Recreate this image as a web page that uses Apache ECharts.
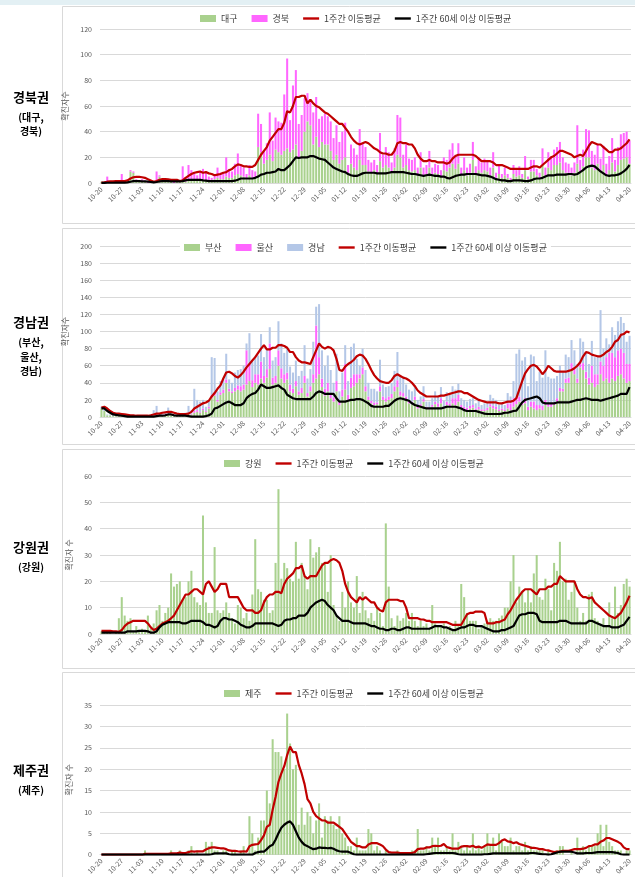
<!DOCTYPE html>
<html><head><meta charset="utf-8">
<script src="https://cdn.jsdelivr.net/npm/echarts@6/dist/echarts.min.js"></script>
<style>html,body{margin:0;padding:0;background:#fff}#c{width:635px;height:877px}</style>
</head><body><div id="c"></div>
<script>
const dates = [
'10-20','10-21','10-22','10-23','10-24','10-25','10-26','10-27','10-28','10-29','10-30','10-31',
'11-01','11-02','11-03','11-04','11-05','11-06','11-07','11-08','11-09','11-10','11-11','11-12','11-13','11-14','11-15','11-16','11-17','11-18','11-19','11-20','11-21','11-22','11-23','11-24','11-25','11-26','11-27','11-28','11-29','11-30',
'12-01','12-02','12-03','12-04','12-05','12-06','12-07','12-08','12-09','12-10','12-11','12-12','12-13','12-14','12-15','12-16','12-17','12-18','12-19','12-20','12-21','12-22','12-23','12-24','12-25','12-26','12-27','12-28','12-29','12-30','12-31',
'01-01','01-02','01-03','01-04','01-05','01-06','01-07','01-08','01-09','01-10','01-11','01-12','01-13','01-14','01-15','01-16','01-17','01-18','01-19','01-20','01-21','01-22','01-23','01-24','01-25','01-26','01-27','01-28','01-29','01-30','01-31',
'02-01','02-02','02-03','02-04','02-05','02-06','02-07','02-08','02-09','02-10','02-11','02-12','02-13','02-14','02-15','02-16','02-17','02-18','02-19','02-20','02-21','02-22','02-23','02-24','02-25','02-26','02-27','02-28',
'03-01','03-02','03-03','03-04','03-05','03-06','03-07','03-08','03-09','03-10','03-11','03-12','03-13','03-14','03-15','03-16','03-17','03-18','03-19','03-20','03-21','03-22','03-23','03-24','03-25','03-26','03-27','03-28','03-29','03-30','03-31',
'04-01','04-02','04-03','04-04','04-05','04-06','04-07','04-08','04-09','04-10','04-11','04-12','04-13','04-14','04-15','04-16','04-17','04-18','04-19','04-20'];

// ---- 경북권 ----
const daegu = [
1,0,1,0,1,1,0, 1,1,2,9,8,1,1, 1,1,0,1,0,2,5, 1,2,1,1,0,1,1, 1,1,2,3,2,2,3, 3,2,1,2,3,4,3,
3,5,4,4,6,7,6, 5,3,6,4,4,28,24, 15,18,22,17,26,24,22, 25,27,24,26,30,20,25, 40,48,45,30,36,28,32,
30,30,25,18,22,15,18, 20,8,15,12,10,18,14, 14,9,8,10,7,17,12, 14,12,8,12,22,20,12, 14,10,9,10,6,12,6,
7,12,6,8,7,5,10, 9,12,15,11,15,6,10, 6,8,18,7,10,8,10, 9,6,12,4,7,4,6, 4,2,7,5,6,4,10,
3,9,9,6,4,14,6, 12,10,14,14,16,10,8, 8,6,8,15,9,13,20, 20,12,10,15,9,14,6, 10,16,9,14,18,19,20, 15];
const gyeongbuk = [
0,1,4,1,0,1,1, 6,1,1,1,1,2,1, 2,1,1,0,0,7,1, 2,1,1,2,1,1,1, 12,3,12,7,6,4,6, 8,7,4,2,4,8,5,
5,15,7,5,9,16,8, 7,4,8,6,5,26,22, 10,13,33,16,25,24,25, 44,70,25,50,58,26,28, 26,22,19,25,31,22,20,
24,22,23,17,23,17,22, 27,6,15,15,12,24,17, 14,9,8,8,7,22,10, 14,12,8,15,31,31,10, 16,9,9,10,6,12,6,
7,13,6,7,7,5,10, 9,14,16,11,16,6,10, 6,7,14,6,10,8,9, 9,6,12,4,7,3,6, 3,2,7,5,7,3,11,
2,9,9,5,4,13,6, 12,11,12,14,16,10,8, 7,6,8,30,9,13,22, 21,13,12,15,10,15,9, 11,19,9,14,20,20,20, 18];
const p1Avg = [
0.3,0.5,1,1.2,1.3,1.5,1.5, 1.5,1.5,2,3.5,4.5,4.8,4.8, 4.5,4,3,2,1,1.5,2.5, 3,3,2.8,2.5,2.5,2.5,1.5,
2,4,5.5,7,8,8.5,9, 8,8.5,7.5,7,6,6.5,7, 8,8.5,10,11,13,14.5,14, 13,13,12.5,12.5,14,18,22,
25,28,33,36,39,42,42, 47,56,55,60,67,67,68, 68,62,65,62,60,59,57, 55,54,52,50,48,46,46,
43,40,36,33,31,30,31, 32,31,29,27,26,24,23, 23,22,22,25,31,32,31, 31,30,30,27,22,19,17,
17,18,17,17,16,16,16, 15,16,19,21,22,22,22, 22,22,22,21,19,17,17, 17,17,16,14,14,14,13,
12,11,11,11,11,11,11, 11,12,13,13,12,14,16, 18,20,21,23,25,25,24, 23,22,20,21,22,21,25,
29,32,31,30,30,28,26, 24,24,26,26,27,29,31, 34];
const p1Avg60 = [
0.1,0.1,0.2,0.2,0.2,0.3,0.3, 0.3,0.3,0.5,1,1.5,1.5,1.5, 1.3,1.2,1,0.8,0.5,0.8,1.2, 1.5,1.5,1.5,1.3,1.2,1.2,1.2,
1.5,2,2.5,2.5,2.5,2.5,2.5, 2,1.8,1.5,1.5,1.5,1.5,1.5, 1.5,1.5,1.5,1.5,1.8,2.5,3.5, 3.5,3.5,3.5,3.5,4,5,6.5,
7,8,8,8.5,9,11,10, 10,12,14,17,20,19.5,20, 20,20,21,21,20,19,18.5, 18,16,14,12,11,10,9,
8.5,7,6,5.5,5.5,6.5,7.5, 8,8,8,8,7.5,7.5,7.5, 7.5,8,8.5,8.5,8.5,8.5,8.5, 8,7.5,7,7,6.5,6,5.5,
6,6.5,6,5.5,5.5,5,5, 4,3.5,4.5,5.5,6,6.5,6.5, 7,7,7,7,6.5,6,6, 5.5,5,4,3,2.5,2,2,
1.5,1.5,2,2,2,1.8,1.5, 1.5,2,3,3.5,3.5,4,5, 6,6,6,6.5,6.5,6.5,6.5, 7,7,6.5,7,8.5,10,12,
13,13.5,13,11,9,7.5,6, 5.5,6,6,6.5,7.5,9,11, 14];

// ---- 경남권 ----
const busan = [
10,7,2,2,1,1,1, 1,1,0,1,1,0,1, 0,1,1,1,2,3,2, 3,2,4,2,1,2,1, 1,2,4,3,5,6,5, 8,6,10,22,25,18,26,
28,40,30,28,30,32,30, 32,38,42,35,40,38,45, 40,46,56,38,40,60,45, 40,44,30,28,36,26,28, 40,24,30,40,45,50,35,
25,30,22,18,30,14,24, 32,20,34,36,40,45,50, 30,20,16,14,15,30,20, 18,20,22,30,35,25,24, 20,16,15,20,10,12,18,
10,9,12,15,12,16,10, 14,12,16,14,18,10,9, 8,10,11,8,9,7,7, 8,12,10,9,7,8,7, 10,8,12,15,18,14,16,
8,12,10,8,10,8,14, 12,12,14,18,30,30,40, 40,55,50,40,58,55,45, 38,40,35,38,50,42,45, 40,45,42,48,50,45,40, 42];
const ulsan = [
0,0,0,0,0,0,0, 0,0,0,0,0,0,0, 0,0,0,0,1,1,0, 1,1,2,0,0,0,0, 0,0,1,1,2,2,1, 2,1,2,4,3,2,3,
4,4,3,2,4,5,6, 6,40,20,8,10,12,20, 8,10,30,8,8,18,12, 10,8,8,5,6,4,6, 8,4,6,10,62,20,10,
8,10,6,5,12,4,8, 30,6,12,14,10,5,8, 6,4,3,3,2,6,4, 4,4,5,6,8,5,4, 4,4,3,4,2,3,3,
2,2,2,3,4,6,2, 4,4,6,8,8,4,3, 3,3,3,2,3,2,2, 3,3,3,3,2,2,2, 6,8,10,8,6,4,6,
4,6,8,6,4,5,6, 4,4,3,4,4,3,5, 6,8,6,5,6,8,8, 8,20,15,12,15,18,25, 35,30,28,30,30,30,22, 20];
const gyeongnam = [
2,2,1,1,1,1,0, 1,0,1,0,1,1,0, 1,0,1,2,5,9,2, 2,2,5,2,2,1,1, 1,3,8,4,26,12,12, 10,5,8,44,41,10,13,
12,30,11,10,18,18,20, 22,8,36,22,21,22,32, 22,24,19,20,22,34,29, 25,28,21,19,24,18,20, 36,17,20,38,22,62,33,
27,32,27,17,32,12,20, 22,16,36,36,18,10,22, 19,16,14,16,13,31,14, 13,12,13,18,33,18,19, 14,12,12,13,8,9,15,
6,7,8,12,9,13,7, 11,10,14,10,13,8,8, 7,8,8,6,8,5,7, 6,11,9,8,5,6,5, 12,8,20,51,55,48,48,
24,55,53,28,39,33,58, 31,29,28,26,26,20,28, 24,27,22,17,28,25,22, 16,29,20,22,60,20,22, 10,30,26,34,37,35,26, 33];
const p2Avg = [
11,12,10,7,5,4,4, 3.5,3,2.5,2,2,1.5,1.5, 1.5,1.5,1.5,2,3,4,4, 5,5.5,6,6,5,4,3.5, 3.5,3.5,4,6,10,12,14,
16,17,19,24,28,33,37, 45,52,53,51,48,46,49, 53,58,62,66,70,75,80, 84,79,79,81,81,84,84, 83,81,76,76,70,66,64,
64,63,62,70,78,86,82, 80,82,81,78,68,55,54, 59,62,64,67,71,73,72, 68,62,55,49,45,42,41, 40,40,43,48,50,48,46,
45,43,40,36,31,28,26, 24,24,24,24,24,25,25, 26,27,28,29,30,30,28, 28,26,24,22,20,19,18, 17,17,17,17,16,16,17,
18,18,19,22,32,42,51, 56,60,61,59,55,50,54, 60,57,54,53,53,53,53, 54,55,57,60,64,71,76, 75,73,72,71,71,73,76,
78,82,88,90,96,97,100, 99];
const p2Avg60 = [
10,10,7,5,3,2.5,2, 1.5,1,0.5,0.5,0.5,0.5,0.5, 0.5,0.5,0.5,0.5,0.5,1,1.5, 1.5,2,3,3,2,1.5,1.5, 1.5,1.5,1,0.5,0.5,0.5,0.5,
0.5,1,2,4,10,11,13, 15,17,18,16,14,14,14, 16,22,25,27,28,32,38, 36,34,34,35,36,37,34, 32,26,24,22,21,21,21,
21,21,21,24,28,30,29, 27,27,27,27,22,18,18, 18,19,20,20,21,21,20, 18,16,13,12,12,12,12, 13,13,16,19,21,22,21,
20,19,16,14,13,12,11, 10,10,10,10,10,10,11, 12,12,12,12,11,10,8, 7,7,7,7,6,5,4, 3.5,3.5,3.5,3.5,3.5,4,5,
5,6,7,7.5,12,17,20, 21,22,23,24,22,17,16, 16,16,16,17,17,17,17, 17,18,19,20,20,21,22, 21,20,20,20,19,20,21,
22,23,24,25,27,27,27, 35];

// ---- 강원권 ----
const gangwon = [
1,1,1,1,0,1,6, 14,7,5,6,1,3,1, 2,1,7,2,4,9,11, 5,8,10,23,18,19,20, 13,14,20,24,14,12,11, 45,12,8,8,33,9,8,
9,12,8,6,4,11,10, 6,8,5,15,36,17,16, 13,13,8,9,27,55,21, 27,25,21,20,35,21,27, 22,17,36,29,31,33,27,
27,16,30,11,7,5,16, 10,20,12,10,22,8,16, 9,6,8,5,10,8,3, 42,18,6,3,7,5,6, 8,5,8,5,3,5,3,
4,2,11,4,3,3,4, 2,3,2,5,3,19,14, 8,5,5,5,2,3,4, 5,6,5,5,6,7,10, 10,20,30,12,18,16,12,
17,12,23,30,14,13,21, 17,9,27,24,35,20,21, 13,16,20,10,5,8,5, 15,16,6,5,4,6,3, 12,6,18,8,11,19,21, 18];
const p3Avg = [
1.2,1.2,1.2,1.2,1,1,0.8, 1.5,3,4,4.5,5,5,5, 5,5,4,2.5,1.5,2,3, 4,4.5,5,6,7,9,11, 13,15,15,16,17,17,16,
15,19,20,18,16,17,19, 19,19,14,14,14,14,12, 10,9,9,9,8,8,9, 12,14,15,15,16,16,15.5, 19,21,22,23,25,25,26,
22,21,22,22,22,24,26, 27,27,28,28.5,28,27,24, 19,16,14,13,12,14,13, 14,13,12,12,10,9,8.5, 12,13,13,13,13,12.5,12.5,
10,6,6,6,6,5.5,5.5, 5,5,4.5,4.5,4.5,4.5,4.5, 4.5,4,3.5,3.5,3.5,3.5,5.5, 7.5,8,8,8.5,8.5,8.5,8, 4,4,4,4.5,4.5,5,5.5,
7.5,9,11,13,14.5,16,17, 17,17,16,15,17,17,17, 18,18,19,19,22,21,20, 20,20,20,17,15,14,14, 13.5,14,12,11,10,9,8,
7,6.5,6,7,8,10,12, 14.5];
const p3Avg60 = [
0.5,0.5,0.5,0.5,0.5,0.5,0.5, 0.5,0.5,1,1,1,1,1.2, 1.2,1.2,1,0.5,0.5,1,2.5, 3.5,4,4.5,4.5,4.5,4.5,4.5, 4,4,4.5,5,5,5,5,
4.5,3.5,3.5,3,2.5,3,5, 6,6,5.5,5.5,5,4.5,3.5, 3,2.5,2.5,3,4,4,4, 4,4,4,4,3.5,3,3.5, 5,5.5,5.5,6,6,7,7,
7,8,10,11,12,12.5,13, 12.5,11,10,9,7,6,5, 5,5,4.5,4,4,4,4, 4,3.5,3,3,2.5,2,2, 1.5,1.5,2,2,1.5,1.5,2,
2.5,2.5,2,2,2,2,2, 2,2,2.5,3,3,3,2.5, 2.5,2,1.5,1.5,2,2.5,2.5, 3,3.5,3.5,3,3,3,2.5, 2,1.5,1,1,1,1.5,1.5,
2,2.5,3,5,7,7.5,7.5, 8,8,8,7.5,5,4.5,4.5, 4.5,4.5,4.5,4.5,5,5,5, 4.5,4,4,4,4,4,4, 5,5,4.5,4,3.5,3,3,
3,2.5,2.5,2.5,3,3.5,5, 6.5];

// ---- 제주권 ----
const jeju = [
0,0,0,0,0,0,0, 0,0,0,0,0,0,0, 0,1,0,0,0,0,0, 0,0,0,1,0,0,1, 0,0,1,2,0,1,0, 0,3,2,3,1,1,0,
1,1,0,1,1,0,1, 2,0,9,5,1,4,8, 8,15,12,27,24,24,23, 20,33,26,20,21,7,11, 7,10,9,5,8,12,4,
9,8,9,7,6,9,5, 4,2,2,1,4,1,1, 1,6,5,1,2,1,0, 1,0,0,0,1,0,0, 0,0,1,1,6,1,1,
2,1,4,2,4,1,1, 2,1,5,1,3,2,1, 2,1,5,1,2,1,2, 5,2,4,1,5,3,2, 2,4,1,2,2,1,3,
1,2,1,1,1,1,0, 1,0,0,1,2,2,0, 0,1,0,4,1,2,1, 2,2,2,5,7,2,7, 3,2,1,1,1,0,1, 1];
const p4Avg = [
0,0,0,0,0,0,0, 0,0,0,0,0,0,0, 0,0.2,0.2,0.2,0.2,0.2,0.2, 0.2,0.2,0.2,0.3,0.3,0.3,0.5, 0.4,0.4,0.6,0.8,0.7,0.8,0.8,
0.8,1.2,1.5,1.7,1.7,1.6,1.5, 1.5,1.3,1,0.9,0.9,0.8,0.7, 0.8,0.7,2,2.3,2.4,2.5,3.4, 4.5,6.5,7,10.5,13.5,17,19,
20.7,23.3,25.3,24,24,21,19, 16.5,13,12,10,9,8.5,8, 8,7.5,7.5,7.5,7,6.5,6, 5,4,3,2.5,2,2,1.7, 1.7,2.4,2.7,2.7,2.7,2.4,2,
1.2,0.6,0.5,0.5,0.5,0.4,0.4, 0.4,0.4,0.4,0.6,1.3,1.4,1.4, 1.7,1.7,2,2.1,2,2.1,2.5, 1.8,1.6,1.4,1.4,1.4,1.9,2,
2,1.9,2.1,1.7,1.9,1.6,2, 2.4,2.3,2.3,2.3,2.7,3.3,3.6, 3.1,3,2.7,2.9,2.5,2.3,2.1, 1.9,1.6,1.6,1.5,1.3,1.3,1.1,
1,0.8,0.6,0.7,0.7,0.9,0.9, 0.9,1.1,1.3,1.3,1.3,1.4,1.6, 2,2.1,2.4,2.4,3,3.3,3.9, 3.9,3.6,3.3,3,2.6,1.7,1.3, 1.3];
const p4Avg60 = [
0,0,0,0,0,0,0, 0,0,0,0,0,0,0, 0,0,0,0,0,0,0, 0,0,0,0,0,0,0, 0,0,0,0,0,0,0,
0,0,0,0.1,0.3,0.3,0.3, 0.3,0.3,0.1,0,0,0,0, 0,0,0,0,0.4,0.6,0.7, 0.7,1.3,2,2.3,3.5,5,6.3,
7,7.5,7.8,7,5.5,4,3, 2.3,2,1.6,1.3,1.4,1.7,1.6, 1.6,1.5,1.6,1.4,1,0.8,0.7, 0.7,0.7,0.4,0.1,0,0,0, 0,0,0,0,0,0,0,
0,0,0,0,0,0,0, 0,0,0,0,0,0,0, 0.1,0.2,0.3,0.4,0.4,0.4,0.4, 0.4,0.4,0.4,0.3,0.1,0,0,
0,0,0,0,0,0,0.1, 0.1,0.2,0.3,0.3,0.3,0.3,0.3, 0.3,0.3,0.3,0.3,0.3,0.3,0.3, 0.3,0.4,0.4,0.3,0.2,0.1,0.1,
0,0.1,0.3,0.5,0.7,0.7,0.7, 0.7,0.7,0.5,0.3,0.3,0.3,0.4, 0.4,0.4,0.5,0.6,0.6,0.6,0.6, 0.6,0.6,0.5,0.4,0.1,0,0, 0];

const check = {dates,daegu,gyeongbuk,p1Avg,p1Avg60,busan,ulsan,gyeongnam,p2Avg,p2Avg60,gangwon,p3Avg,p3Avg60,jeju,p4Avg,p4Avg60};
const bad = Object.keys(check).filter(k => check[k].length !== 183).map(k => k + ':' + check[k].length);
if (bad.length) throw new Error('length mismatch ' + bad.join(', '));

const FONT = '"Noto Sans CJK KR", "Noto Sans", sans-serif';
const GREEN = '#a9d18e', PINK = '#ff66ff', BLUE = '#b4c7e7', RED = '#c00000', BLACK = '#000000';
const AVG = '1주간 이동평균', AVG60 = '1주간 60세 이상 이동평균';
const LINE_ICON = 'path://M0 0H20V3H0Z';

const panels = [
  {top: 29, height: 154, max: 120, interval: 20, yname: '확진자수', legendTop: 12, legendLeft: 196,
   bars: [['대구', daegu, GREEN], ['경북', gyeongbuk, PINK]], avg: p1Avg, avg60: p1Avg60},
  {top: 246, height: 171, max: 200, interval: 20, yname: '확진자수', legendTop: 241, legendLeft: 180,
   bars: [['부산', busan, GREEN], ['울산', ulsan, PINK], ['경남', gyeongnam, BLUE]], avg: p2Avg, avg60: p2Avg60},
  {top: 476, height: 158, max: 60, interval: 10, yname: '확진자 수', legendTop: 457, legendLeft: 220,
   bars: [['강원', gangwon, GREEN]], avg: p3Avg, avg60: p3Avg60},
  {top: 705, height: 151, max: 35, interval: 5, yname: '확진자 수', legendTop: 687, legendLeft: 220,
   bars: [['제주', jeju, GREEN]], avg: p4Avg, avg60: p4Avg60}
];

const grid = [], xAxis = [], yAxis = [], legend = [], series = [];
panels.forEach((p, i) => {
  grid.push({left: 100, right: 4, top: p.top, height: p.height});
  xAxis.push({type: 'category', gridIndex: i, data: dates, boundaryGap: true,
    axisLine: {lineStyle: {color: '#d9d9d9'}}, axisTick: {show: false},
    axisLabel: {interval: 6, rotate: 45, fontSize: 7, color: '#595959', margin: 5, fontFamily: FONT}});
  yAxis.push({type: 'value', gridIndex: i, min: 0, max: p.max, interval: p.interval,
    axisLine: {show: false}, axisTick: {show: false},
    splitLine: {lineStyle: {color: '#d9d9d9', width: 1}},
    axisLabel: {fontSize: 7, color: '#595959', fontFamily: FONT, margin: 8},
    name: p.yname, nameLocation: 'middle', nameGap: 22, nameRotate: 90,
    nameTextStyle: {fontSize: 8, color: '#595959', fontFamily: FONT}});
  const ldata = [];
  p.bars.forEach(b => {
    ldata.push({name: b[0], icon: 'rect'});
    series.push({type: 'bar', name: b[0], data: b[1], stack: 's' + i, xAxisIndex: i, yAxisIndex: i,
      barCategoryGap: '30%', itemStyle: {color: b[2]}, emphasis: {disabled: true}});
  });
  ldata.push({name: AVG, icon: LINE_ICON}, {name: AVG60, icon: LINE_ICON});
  series.push({type: 'line', name: AVG, data: p.avg, xAxisIndex: i, yAxisIndex: i, symbol: 'none',
    z: 4, lineStyle: {color: RED, width: 2.2}, itemStyle: {color: RED}});
  series.push({type: 'line', name: AVG60, data: p.avg60, xAxisIndex: i, yAxisIndex: i, symbol: 'none',
    z: 5, lineStyle: {color: BLACK, width: 2.2}, itemStyle: {color: BLACK}});
  legend.push({top: p.legendTop, left: p.legendLeft, itemWidth: 16, itemHeight: 7, itemGap: 14,
    backgroundColor: '#ffffff', padding: [2, 4],
    textStyle: {fontSize: 9, color: '#404040', fontFamily: FONT}, data: ldata, selectedMode: false});
});

const txt = (t, y, size) => ({type: 'text', x: 31, y: y,
  style: {text: t, fill: '#000', font: 'bold ' + size + 'px ' + FONT, textAlign: 'center', textVerticalAlign: 'middle'}});
const box = (y, h) => ({type: 'rect', shape: {x: 62.5, y: y, width: 600, height: h},
  style: {fill: 'none', stroke: '#d9d9d9', lineWidth: 1}, z: -1});

const graphic = [
  {type: 'rect', shape: {x: 0, y: 0, width: 635, height: 5}, style: {fill: '#e3f0f4'}, z: -2},
  box(6.5, 217), box(228.5, 216), box(449.5, 219), box(672.5, 220),
  txt('경북권', 97, 13), txt('(대구,', 117, 10), txt('경북)', 131, 10),
  txt('경남권', 322, 13), txt('(부산,', 342, 10), txt('울산,', 357, 10), txt('경남)', 371, 10),
  txt('강원권', 547, 13), txt('(강원)', 567, 10),
  txt('제주권', 770, 13), txt('(제주)', 790, 10)
];

const chart = echarts.init(document.getElementById('c'));
chart.setOption({animation: false, backgroundColor: '#ffffff', textStyle: {fontFamily: FONT},
  grid, xAxis, yAxis, legend, series, graphic});
</script></body></html>
